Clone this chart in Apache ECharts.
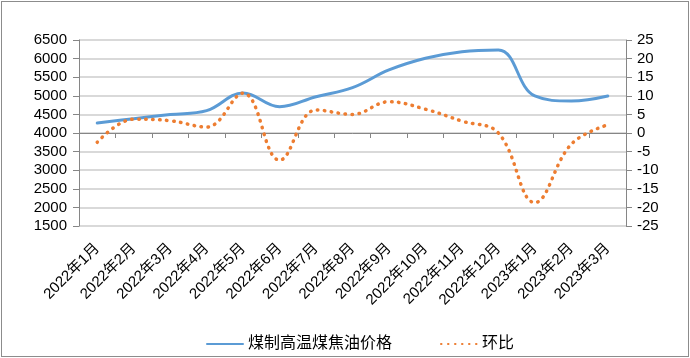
<!DOCTYPE html>
<html>
<head>
<meta charset="utf-8">
<script src="https://cdn.jsdelivr.net/npm/echarts@6/dist/echarts.min.js"></script>
<style>
html,body{margin:0;padding:0;background:#fff;}
#frame{position:absolute;left:1px;top:1px;width:686px;height:354px;border:1px solid #8c8c8c;background:#fff;}
#chart{position:absolute;left:0;top:0;width:690px;height:358px;}
</style>
</head>
<body>
<div id="frame"></div>
<div id="chart"></div>
<script>
const categories = ['2022年1月','2022年2月','2022年3月','2022年4月','2022年5月','2022年6月','2022年7月','2022年8月','2022年9月','2022年10月','2022年11月','2022年12月','2023年1月','2023年2月','2023年3月'];
const priceValues = [4270, 4385, 4495, 4600, 5075, 4707, 4976, 5218, 5694, 6008, 6186, 6231, 4995, 4860, 4995];
const momValues = [-2.5, 3.7, 3.3, 1.6, 10.7, -7.3, 6.2, 5.0, 8.4, 6.4, 3.2, 0.0, -18.7, -3.0, 2.2];
const leftTicks = {min: 1500, max: 6500, interval: 500};
const rightTicks = {min: -25, max: 25, interval: 5};
const seriesNames = ['煤制高温煤焦油价格', '环比'];

const font = '"Liberation Sans", "Noto Sans CJK SC", sans-serif';
const chart = echarts.init(document.getElementById('chart'), null, {renderer: 'canvas'});
chart.setOption({
  backgroundColor: 'transparent',
  animation: false,
  grid: {left: 79, right: 64, top: 40, bottom: 132, containLabel: false},
  legend: {
    left: 201, top: 331,
    itemWidth: 36, itemHeight: 14, itemGap: 48,
    itemStyle: {opacity: 0},
    textStyle: {fontSize: 16, color: '#000', fontFamily: font},
    data: seriesNames
  },
  xAxis: {
    type: 'category',
    data: categories,
    boundaryGap: true,
    axisLine: {lineStyle: {color: '#868686', width: 1}},
    axisTick: {show: true, length: 5, alignWithLabel: false, lineStyle: {color: '#868686'}},
    axisLabel: {rotate: 45, margin: 20, fontSize: 15, color: '#000', fontFamily: font, interval: 0}
  },
  yAxis: [
    {
      type: 'value', min: leftTicks.min, max: leftTicks.max, interval: leftTicks.interval,
      axisLine: {show: true, lineStyle: {color: '#868686'}},
      axisTick: {show: true, length: 6, lineStyle: {color: '#868686'}},
      axisLabel: {margin: 12, fontSize: 15, color: '#000', fontFamily: font, formatter: v => String(v)},
      splitLine: {show: true, lineStyle: {color: '#d9d9d9', width: 2}}
    },
    {
      type: 'value', min: rightTicks.min, max: rightTicks.max, interval: rightTicks.interval,
      position: 'right',
      axisLine: {show: true, lineStyle: {color: '#868686'}},
      axisTick: {show: true, length: 6, lineStyle: {color: '#868686'}},
      axisLabel: {margin: 11, fontSize: 15, color: '#000', fontFamily: font, formatter: v => String(v)},
      splitLine: {show: false}
    }
  ],
  series: [
    {
      name: seriesNames[0], type: 'line', yAxisIndex: 0, data: priceValues,
      smooth: 0.4, symbol: 'none', showSymbol: false,
      itemStyle: {color: '#5B9BD5'},
      lineStyle: {color: '#5B9BD5', width: 3, cap: 'round'}
    },
    {
      name: seriesNames[1], type: 'line', yAxisIndex: 1, data: momValues,
      smooth: 0.4, symbol: 'none', showSymbol: false,
      itemStyle: {color: '#ED7D31'},
      lineStyle: {color: '#ED7D31', width: 3.5, type: [0.5, 6.5], cap: 'round'}
    }
  ]
});
</script>
</body>
</html>
